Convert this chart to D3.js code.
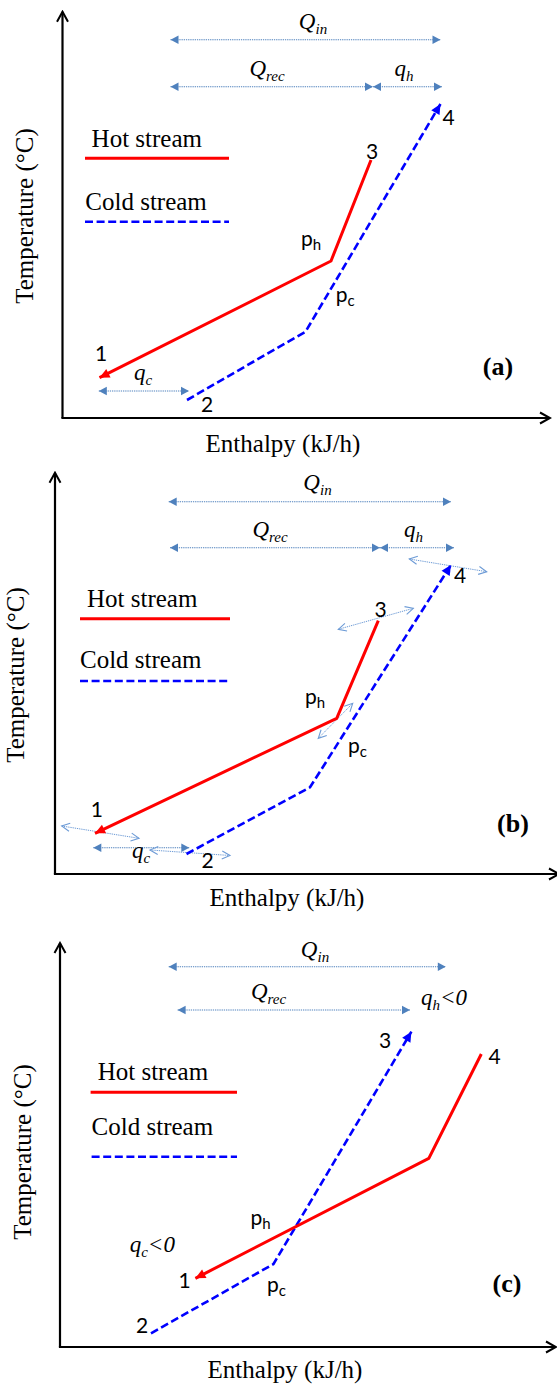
<!DOCTYPE html>
<html>
<head>
<meta charset="utf-8">
<script src="https://cdn.jsdelivr.net/npm/d3@7"></script>
<style>
  body { margin: 0; background: #fff; }
  svg { display: block; }
</style>
</head>
<body>
<svg id="chart" width="557" height="1385"></svg>
<script>
// Hot / cold stream composite sketches (temperature vs. enthalpy) for three cases.

// Stream polylines, [enthalpy, temperature] in chart units measured from each panel origin.
// Hot streams run from the hot inlet down to point 1; cold streams from point 2 upward.
const hotA  = [[308.5, 258], [268.5, 157], [37, 40.3]];
const coldA = [[124.5, 18], [243, 86.3], [378, 314]];
const hotB  = [[323.3, 253.3], [281.7, 155.7], [40, 40.7]];
const coldB = [[131.5, 20], [255, 86.7], [396, 309]];
const hotC  = [[421.3, 293], [368.8, 188.7], [135.4, 68.7]];
const coldC = [[91, 13.7], [213.5, 83], [351.4, 315.3]];

// Heat-duty spans: [start, end] enthalpy, plus the temperature level they are drawn at.
const qinSpans  = [[108, 378, 378.3], [113.7, 396, 372.3], [108.7, 385.8, 380.3]];
const qrecSpans = [[108, 310.5, 331.3], [115, 325, 326.3], [117.6, 350, 337]];
const qhSpans   = [[310.5, 379.5, 331.3], [325, 399, 326.3], null];
const qcSpans   = [[36.3, 126.5, 27], [38.3, 134.3, 26.3], null];

// Pinch-shift indicators of case (b): [x0, y0, x1, y1] in chart units.
const shiftsB = [
  [6.7, 48, 84, 35.7],
  [95, 24, 175, 18.5],
  [263.3, 135.7, 297.7, 170.7],
  [283.3, 244.7, 358.3, 265.7],
  [354.3, 315, 431.7, 302.3]
];

const panelLetters = ["(a)", "(b)", "(c)"];
const legendNames = ["Hot stream", "Cold stream"];
const xTitle = "Enthalpy (kJ/h)";
const yTitle = "Temperature (°C)";

// ---------- layout ----------
const frames = [
  { ox: 62.5, oy: 418, top: 11.7, right: 550,
    yTitleX: 33, yTitleY: 216, xTitleX: 283, xTitleY: 451.5,
    letter: [498, 375],
    legend: { hotText: [91.6, 146.7], hotLine: [85, 229, 158.3], coldText: [85.3, 210], coldLine: [85, 229, 221.7] },
    qin: [313, 28.5], qrec: [267, 76], qh: [404, 76], qc: [143, 380],
    nums: [["1", 101, 360.5], ["2", 207, 411.5], ["3", 372, 159], ["4", 448.5, 124.5]],
    ph: [301, 245.5], pc: [335.7, 301.5] },
  { ox: 55, oy: 874, top: 472.7, right: 559,
    yTitleX: 24, yTitleY: 675, xTitleX: 287, xTitleY: 906,
    letter: [513, 832],
    legend: { hotText: [87, 606.7], hotLine: [80, 230, 618.7], coldText: [80, 668], coldLine: [80, 230, 681] },
    qin: [317.5, 490], qrec: [270, 537], qh: [413.5, 537], qc: [141, 858],
    nums: [["1", 96.8, 816.5], ["2", 207.5, 868], ["3", 380.5, 616.5], ["4", 460, 583]],
    ph: [305, 703.5], pc: [348, 753] },
  { ox: 60, oy: 1347, top: 943, right: 556,
    yTitleX: 31, yTitleY: 1152, xTitleX: 285, xTitleY: 1378,
    letter: [507, 1292],
    legend: { hotText: [97.7, 1080], hotLine: [90.6, 237, 1092.3], coldText: [91.6, 1135], coldLine: [91.6, 237, 1156.7] },
    qin: [315, 956.5], qrec: [268.5, 999], qhNeg: [421, 1005], qcNeg: [129.7, 1251.5],
    nums: [["3", 385, 1048], ["4", 494.7, 1064], ["2", 142, 1333], ["1", 184.7, 1288]],
    ph: [250.4, 1225], pc: [267, 1291.5] }
];

const hotStreams = [hotA, hotB, hotC];
const coldStreams = [coldA, coldB, coldC];

const RED = "#ff0000", BLUE = "#0000ff", DUTY = "#4f81bd", SHIFT = "#6d9bd6";
const SERIF = "'Liberation Serif', 'Times New Roman', serif";
const SANS = "Lato, 'Open Sans', sans-serif";

const svg = d3.select("#chart");
const defs = svg.append("defs");

function makeMarker(id, color, L, H, open, sw) {
  const m = defs.append("marker")
    .attr("id", id)
    .attr("markerUnits", "userSpaceOnUse")
    .attr("viewBox", `${-L - 2} ${-H - 2} ${L + 4} ${2 * H + 4}`)
    .attr("markerWidth", L + 4)
    .attr("markerHeight", 2 * H + 4)
    .attr("refX", 0).attr("refY", 0)
    .attr("orient", "auto-start-reverse");
  const p = m.append("path");
  if (open) {
    p.attr("d", `M${-L},${-H} L0,0 L${-L},${H}`)
      .attr("fill", "none").attr("stroke", color).attr("stroke-width", sw)
      .attr("stroke-linejoin", "miter");
  } else {
    p.attr("d", `M${-L},${-H} L0,0 L${-L},${H} Z`).attr("fill", color);
  }
}
makeMarker("axisHead", "#000", 10, 5.5, true, 2);
makeMarker("dutyHead", DUTY, 8, 4.2, false);
makeMarker("redHead", RED, 10, 4.8, false);
makeMarker("blueHead", BLUE, 10, 4.8, false);
makeMarker("shiftHead", SHIFT, 8, 4, true, 1.1);

function subText(g, x, y, main, sub, opts) {
  const t = g.append("text")
    .attr("x", x).attr("y", y)
    .attr("font-family", opts.family)
    .attr("font-style", opts.italic ? "italic" : "normal")
    .attr("font-size", opts.size)
    .attr("text-anchor", opts.anchor || "start")
    .attr("fill", "#000");
  t.append("tspan").text(main);
  t.append("tspan").attr("font-size", opts.subSize).attr("dy", opts.subDy).text(sub);
  if (opts.tail) {
    t.append("tspan").attr("font-size", opts.size).attr("dy", -opts.subDy).text(opts.tail);
  }
  return t;
}

frames.forEach((f, i) => {
  const g = svg.append("g").attr("class", "panel-" + i);
  const x = d3.scaleLinear().domain([0, 500]).range([f.ox, f.ox + 500]);
  const y = d3.scaleLinear().domain([0, 400]).range([f.oy, f.oy - 400]);
  const line = d3.line().x(d => x(d[0])).y(d => y(d[1]));

  // axes with open arrowheads
  g.append("line").attr("x1", f.ox).attr("y1", f.oy).attr("x2", f.ox).attr("y2", f.top)
    .attr("stroke", "#000").attr("stroke-width", 2.2).attr("marker-end", "url(#axisHead)");
  g.append("line").attr("x1", f.ox - 1.1).attr("y1", f.oy).attr("x2", f.right).attr("y2", f.oy)
    .attr("stroke", "#000").attr("stroke-width", 2.2).attr("marker-end", "url(#axisHead)");

  // axis titles
  g.append("text")
    .attr("transform", `translate(${f.yTitleX},${f.yTitleY}) rotate(-90)`)
    .attr("text-anchor", "middle")
    .attr("font-family", SERIF).attr("font-size", 25)
    .text(yTitle);
  g.append("text")
    .attr("x", f.xTitleX).attr("y", f.xTitleY)
    .attr("text-anchor", "middle")
    .attr("font-family", SERIF).attr("font-size", 25)
    .text(xTitle);

  // panel letter
  g.append("text")
    .attr("x", f.letter[0]).attr("y", f.letter[1])
    .attr("text-anchor", "middle")
    .attr("font-family", SERIF).attr("font-weight", "bold").attr("font-size", 26)
    .text(panelLetters[i]);

  // legend
  const lg = f.legend;
  g.append("text").attr("x", lg.hotText[0]).attr("y", lg.hotText[1])
    .attr("font-family", SERIF).attr("font-size", 25).text(legendNames[0]);
  g.append("line").attr("x1", lg.hotLine[0]).attr("x2", lg.hotLine[1])
    .attr("y1", lg.hotLine[2]).attr("y2", lg.hotLine[2])
    .attr("stroke", RED).attr("stroke-width", 3);
  g.append("text").attr("x", lg.coldText[0]).attr("y", lg.coldText[1])
    .attr("font-family", SERIF).attr("font-size", 25).text(legendNames[1]);
  g.append("line").attr("x1", lg.coldLine[0]).attr("x2", lg.coldLine[1])
    .attr("y1", lg.coldLine[2]).attr("y2", lg.coldLine[2])
    .attr("stroke", BLUE).attr("stroke-width", 2.6).attr("stroke-dasharray", "8,3.6");

  // heat-duty spans
  const spans = [qinSpans[i], qrecSpans[i], qhSpans[i], qcSpans[i]].filter(s => s);
  g.selectAll("line.duty").data(spans).join("line")
    .attr("class", "duty")
    .attr("x1", d => x(d[0])).attr("x2", d => x(d[1]))
    .attr("y1", d => y(d[2])).attr("y2", d => y(d[2]))
    .attr("stroke", DUTY).attr("stroke-width", 1.1)
    .attr("stroke-dasharray", "1.3,0.9")
    .attr("marker-start", "url(#dutyHead)")
    .attr("marker-end", "url(#dutyHead)");

  // pinch-shift indicators (case b)
  if (i === 1) {
    g.selectAll("line.shift").data(shiftsB).join("line")
      .attr("class", "shift")
      .attr("x1", d => x(d[0])).attr("y1", d => y(d[1]))
      .attr("x2", d => x(d[2])).attr("y2", d => y(d[3]))
      .attr("stroke", SHIFT).attr("stroke-width", 1)
      .attr("stroke-dasharray", "1.3,0.9")
      .attr("marker-start", "url(#shiftHead)")
      .attr("marker-end", "url(#shiftHead)");
  }

  // streams
  g.append("path").datum(coldStreams[i])
    .attr("d", line).attr("fill", "none")
    .attr("stroke", BLUE).attr("stroke-width", 2.6)
    .attr("stroke-dasharray", "8,3.6")
    .attr("marker-end", "url(#blueHead)");
  g.append("path").datum(hotStreams[i])
    .attr("d", line).attr("fill", "none")
    .attr("stroke", RED).attr("stroke-width", 3)
    .attr("stroke-linejoin", "miter")
    .attr("marker-end", "url(#redHead)");

  // duty labels
  const qOpts = { family: SERIF, italic: true, size: 23, subSize: 15, subDy: 5, anchor: "middle" };
  subText(g, f.qin[0], f.qin[1], "Q", "in", qOpts);
  subText(g, f.qrec[0], f.qrec[1], "Q", "rec", qOpts);
  if (f.qh) subText(g, f.qh[0], f.qh[1], "q", "h", qOpts);
  if (f.qc) subText(g, f.qc[0], f.qc[1], "q", "c", qOpts);
  if (f.qhNeg) subText(g, f.qhNeg[0], f.qhNeg[1], "q", "h", Object.assign({}, qOpts, { anchor: "start", tail: "<0" }));
  if (f.qcNeg) subText(g, f.qcNeg[0], f.qcNeg[1], "q", "c", Object.assign({}, qOpts, { anchor: "start", tail: "<0" }));

  // point numbers
  g.selectAll("text.num").data(f.nums).join("text")
    .attr("class", "num")
    .attr("x", d => d[1]).attr("y", d => d[2])
    .attr("text-anchor", "middle")
    .attr("font-family", SANS).attr("font-size", 21)
    .text(d => d[0]);

  // pinch points
  const pOpts = { family: SANS, italic: false, size: 21, subSize: 15, subDy: 4 };
  subText(g, f.ph[0], f.ph[1], "p", "h", pOpts);
  subText(g, f.pc[0], f.pc[1], "p", "c", pOpts);
});
</script>
</body>
</html>
